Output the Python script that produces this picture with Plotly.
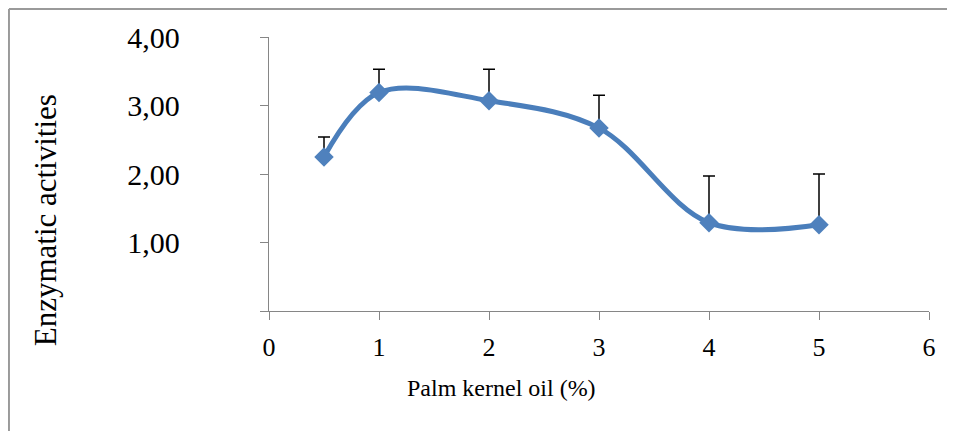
import plotly.graph_objects as go

# Palm kernel oil concentration (%) vs enzymatic activity
oil_pct = [0.5, 1, 2, 3, 4, 5]
activity = [2.25, 3.19, 3.07, 2.67, 1.29, 1.26]
error_up = [0.29, 0.34, 0.46, 0.48, 0.68, 0.74]

y_tickvals = [0, 1, 2, 3, 4]
y_ticktext = ["", "1,00", "2,00", "3,00", "4,00"]
x_tickvals = [0, 1, 2, 3, 4, 5, 6]

blue = "#4A7EBB"
axis_gray = "#868686"
serif = "Liberation Serif"

fig = go.Figure()
fig.add_trace(go.Scatter(
    x=oil_pct,
    y=activity,
    mode="lines+markers",
    line=dict(color=blue, width=5, shape="spline", smoothing=1.0),
    marker=dict(symbol="diamond", size=15, color="#4F81BD"),
    error_y=dict(type="data", array=error_up, arrayminus=[0] * len(error_up),
                 symmetric=False, color="black", thickness=1.5, width=6),
    showlegend=False,
))

fig.update_layout(
    width=947, height=423,
    margin=dict(l=261, r=26, t=29, b=120),
    paper_bgcolor="white",
    plot_bgcolor="white",
    font=dict(family=serif, color="black"),
    xaxis=dict(
        range=[0, 6], tickvals=x_tickvals, showgrid=False, zeroline=False,
        showline=True, linecolor=axis_gray, linewidth=1.3,
        ticks="outside", ticklen=8, tickcolor=axis_gray, tickwidth=1.3,
        tickfont=dict(family=serif, size=26, color="black"), ticklabelstandoff=5,
    ),
    yaxis=dict(
        range=[0, 4], tickvals=y_tickvals, ticktext=y_ticktext,
        showgrid=False, zeroline=False,
        showline=True, linecolor=axis_gray, linewidth=1.3,
        ticks="outside", ticklen=8, tickcolor=axis_gray, tickwidth=1.3,
        tickfont=dict(family=serif, size=30, color="black"), ticklabelstandoff=74,
    ),
    annotations=[
        dict(text="Palm kernel oil (%)", xref="paper", yref="paper",
             x=0.3526, y=-0.281, xanchor="center", yanchor="middle",
             showarrow=False, font=dict(family=serif, size=24, color="black")),
        dict(text="Enzymatic activities", xref="paper", yref="paper",
             x=-0.339, y=0.332, xanchor="center", yanchor="middle",
             textangle=-90, showarrow=False,
             font=dict(family=serif, size=31, color="black")),
    ],
    shapes=[
        dict(type="line", xref="paper", yref="paper",
             x0=-0.394, x1=-0.394, y0=-0.5, y1=1.102,
             line=dict(color="#9A9A9A", width=2)),
        dict(type="line", xref="paper", yref="paper",
             x0=-0.394, x1=1.1, y0=1.102, y1=1.102,
             line=dict(color="#9A9A9A", width=2)),
    ],
)

fig.write_html("out.html")
